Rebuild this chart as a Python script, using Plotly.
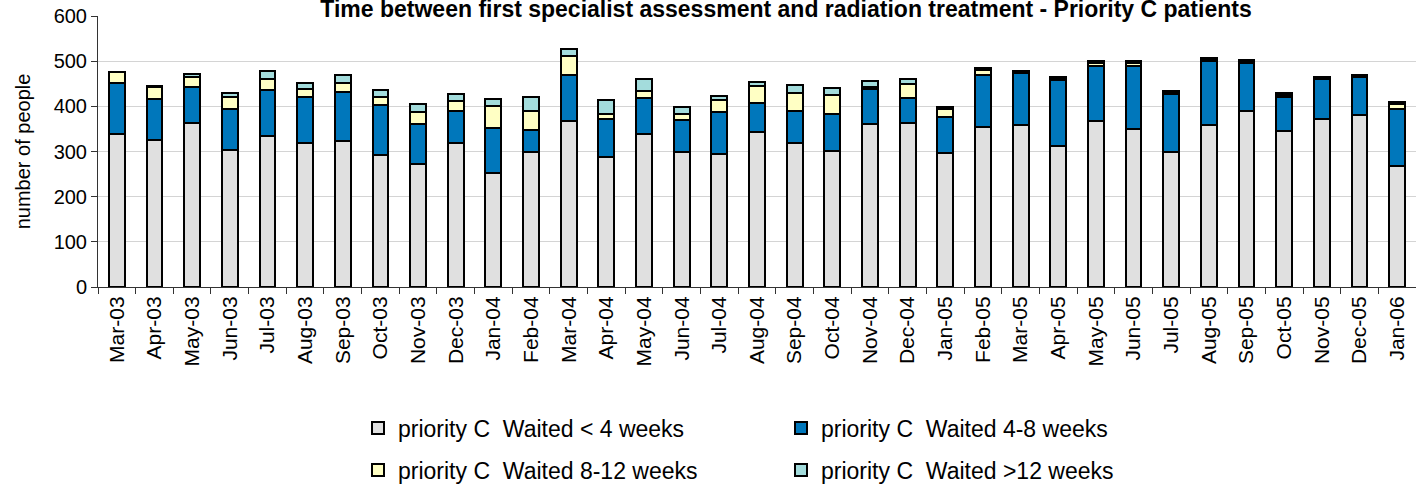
import plotly.graph_objects as go

months = ["Mar-03", "Apr-03", "May-03", "Jun-03", "Jul-03", "Aug-03", "Sep-03", "Oct-03",
          "Nov-03", "Dec-03", "Jan-04", "Feb-04", "Mar-04", "Apr-04", "May-04", "Jun-04",
          "Jul-04", "Aug-04", "Sep-04", "Oct-04", "Nov-04", "Dec-04", "Jan-05", "Feb-05",
          "Mar-05", "Apr-05", "May-05", "Jun-05", "Jul-05", "Aug-05", "Sep-05", "Oct-05",
          "Nov-05", "Dec-05", "Jan-06"]

lt4 = [338, 326, 364, 304, 334, 318, 323, 292, 273, 319, 253, 299, 368, 288, 338, 299,
       294, 343, 319, 302, 362, 364, 296, 355, 358, 313, 368, 349, 300, 359, 389, 346,
       373, 381, 268]
w4_8 = [114, 91, 78, 91, 102, 102, 109, 110, 89, 71, 100, 48, 101, 83, 80, 71,
        93, 65, 70, 82, 76, 55, 81, 114, 115, 145, 122, 141, 127, 141, 106, 74,
        87, 85, 127]
w8_12 = [24, 25, 22, 25, 25, 19, 20, 18, 25, 22, 48, 43, 43, 12, 17, 13,
         28, 37, 41, 40, 4, 30, 18, 11, 3, 3, 5, 5, 4, 4, 4, 6,
         4, 2, 10]
gt12 = [1, 3, 8, 10, 18, 12, 18, 16, 19, 15, 15, 30, 16, 32, 25, 16,
        8, 8, 18, 17, 14, 11, 4, 4, 3, 3, 5, 6, 4, 4, 4, 4,
        2, 1, 4]

series = [
    ("priority C  Waited < 4 weeks", lt4, "#e0e0e0", "legend"),
    ("priority C  Waited 4-8 weeks", w4_8, "#0077bb", "legend"),
    ("priority C  Waited 8-12 weeks", w8_12, "#ffffc4", "legend2"),
    ("priority C  Waited >12 weeks", gt12, "#a3dcdc", "legend2"),
]

FONT = "Liberation Sans, Arial, sans-serif"

fig = go.Figure()
for name, vals, color, lg in series:
    fig.add_trace(go.Bar(
        x=months, y=vals, name=name, legend=lg,
        marker=dict(color=color, line=dict(color="black", width=2)),
    ))

PL, PR, PT, PB = 98, 0, 16, 201
W, H = 1416, 488
pw = W - PL - PR
ph = H - PT - PB

def px_x(p):
    return (p - PL) / pw

def px_y(p):
    return (H - PB - p) / ph

legend_common = dict(
    orientation="h", xanchor="left", yanchor="middle", traceorder="normal",
    font=dict(family=FONT, size=23, color="black"),
    entrywidth=378, entrywidthmode="pixels",
    bgcolor="rgba(0,0,0,0)", borderwidth=0,
    itemclick=False, itemdoubleclick=False,
)

fig.update_layout(
    width=W, height=H,
    margin=dict(l=PL, r=PR, t=PT, b=PB, autoexpand=False),
    paper_bgcolor="white", plot_bgcolor="white",
    barmode="stack", bargap=0.58,
    font=dict(family=FONT, color="black"),
    title=dict(
        text="<b>Time between first specialist assessment and radiation treatment - Priority C patients</b>",
        x=786 / W, xanchor="center", xref="container",
        y=1 - 8.5 / H, yanchor="middle", yref="container",
        font=dict(family=FONT, size=23, color="black"),
    ),
    legend=dict(x=px_x(358), y=px_y(428), **legend_common),
    legend2=dict(x=px_x(358), y=px_y(470), **legend_common),
    showlegend=True,
)

fig.update_xaxes(
    type="category", tickangle=-90,
    tickfont=dict(family=FONT, size=21, color="black"),
    showline=True, linecolor="#333", linewidth=1,
    ticks="outside", ticklen=6, tickcolor="#333", tickson="boundaries",
    showgrid=False,
)
fig.update_yaxes(
    range=[0, 600], tickvals=[0, 100, 200, 300, 400, 500, 600],
    tickfont=dict(family=FONT, size=20, color="black"),
    showline=True, linecolor="#333", linewidth=1,
    ticks="outside", ticklen=6, tickcolor="#333",
    showgrid=True, gridcolor="#d4d4d4", gridwidth=1,
    zeroline=False,
    title=dict(text="number of people", font=dict(family=FONT, size=20, color="black"), standoff=17),
)

fig.write_html(
    "out.html",
    config={"displayModeBar": False},
    post_script="document.body.style.margin='0';document.body.style.overflow='hidden';",
)
